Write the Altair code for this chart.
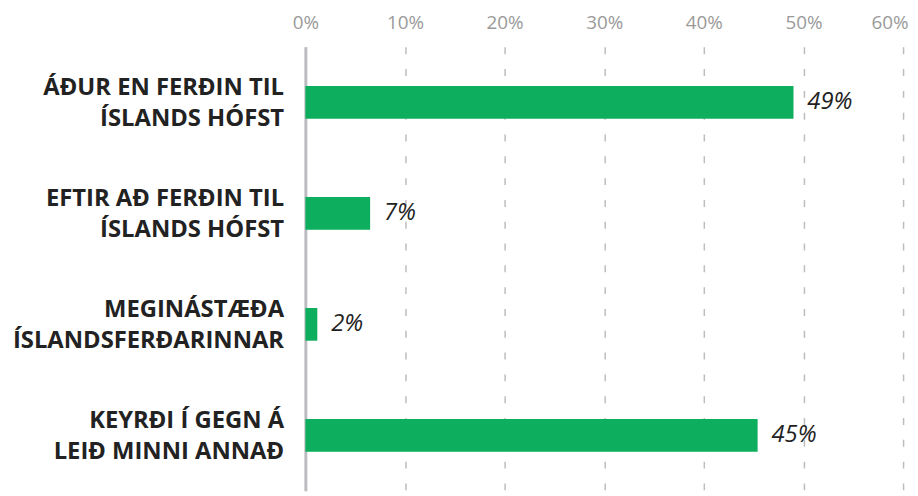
import altair as alt
import pandas as pd

categories = [
    "ÁÐUR EN FERÐIN TIL|ÍSLANDS HÓFST",
    "EFTIR AÐ FERÐIN TIL|ÍSLANDS HÓFST",
    "MEGINÁSTÆÐA|ÍSLANDSFERÐARINNAR",
    "KEYRÐI Í GEGN Á|LEIÐ MINNI ANNAÐ",
]
values = [0.49, 0.065, 0.012, 0.454]
labels = ["49%", "7%", "2%", "45%"]
ticks = [0, 0.1, 0.2, 0.3, 0.4, 0.5, 0.6]

df = pd.DataFrame({"cat": categories, "value": values, "label": labels})

FONT = "Open Sans"

y = alt.Y(
    "cat:N",
    sort=categories,
    scale=alt.Scale(paddingInner=0.0, paddingOuter=0.0),
    axis=alt.Axis(
        title=None,
        labelExpr="split(datum.label, '|')",
        labelFont=FONT,
        labelFontWeight="bold",
        labelFontSize=24,
        labelColor="#222222",
        labelLineHeight=31,
        labelOffset=-14,
        labelPadding=22,
        labelBaseline="middle",
        labelLimit=400,
        ticks=False,
        domain=True,
        domainColor="#bdbdc1",
        domainWidth=3,
        grid=False,
    ),
)

x = alt.X(
    "value:Q",
    scale=alt.Scale(domain=[0, 0.6], nice=False, zero=True),
    axis=alt.Axis(
        title=None,
        orient="top",
        values=ticks,
        format=".0%",
        labelFont=FONT,
        labelFontSize=19,
        labelColor="#9a9a9a",
        labelPadding=14,
        labelFlush=False,
        labelAlign=alt.condition("datum.value >= 0.6", alt.value("right"), alt.value("center")),
        labelOffset=alt.condition("datum.value >= 0.6", alt.value(5), alt.value(0)),
        ticks=False,
        domain=False,
        grid=True,
        gridColor="#bdbdbd",
        gridWidth=1.5,
        gridDash=[7, 15],
    ),
)

bars = alt.Chart(df).mark_bar(size=33, color="#0DAE5E").encode(x=x, y=y)

text = alt.Chart(df).mark_text(
    align="left", baseline="middle", dx=14, font=FONT, fontStyle="italic",
    fontSize=24, color="#222222"
).encode(x="value:Q", y=alt.Y("cat:N", sort=categories), text="label:N")

chart = (bars + text).properties(
    width=603,
    height=448,
    padding={"left": 300, "top": 37, "right": 7, "bottom": 0},
    autosize=alt.AutoSizeParams(type="none"),
).configure_view(stroke=None)

chart.save("out.html", embed_options={"renderer": "svg", "actions": False})
